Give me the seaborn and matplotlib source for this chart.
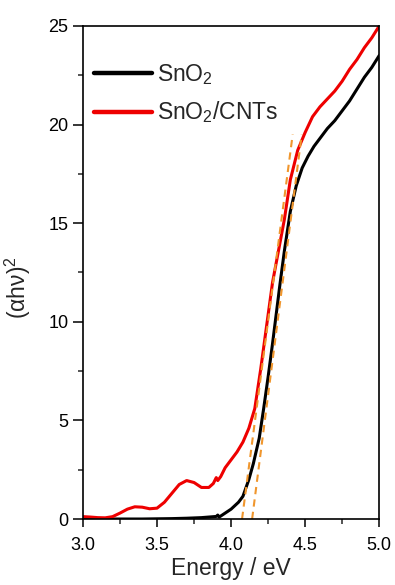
import matplotlib
matplotlib.use("Agg")
import matplotlib.pyplot as plt
import seaborn as sns
import pandas as pd
from matplotlib.ticker import MultipleLocator

# -----------------------------
# Data
# -----------------------------
energy_sno2 = [3.0, 3.2, 3.4, 3.6, 3.7, 3.8, 3.85, 3.9, 3.91, 3.92, 3.95, 4.0,
               4.05, 4.08, 4.12, 4.15, 4.19, 4.22, 4.25, 4.28, 4.3, 4.33, 4.36,
               4.4, 4.44, 4.48, 4.52, 4.56, 4.6, 4.65, 4.7, 4.75, 4.8, 4.85,
               4.9, 4.95, 5.0]
ahv_sno2 = [0.0, 0.0, 0.0, 0.02, 0.04, 0.07, 0.1, 0.13, 0.2, 0.1, 0.25, 0.5,
            0.85, 1.15, 2.0, 2.8, 4.1, 5.6, 7.2, 8.9, 10.1, 11.9, 13.6,
            15.6, 16.9, 17.8, 18.4, 18.9, 19.3, 19.8, 20.2, 20.7, 21.2, 21.8,
            22.4, 22.9, 23.5]

energy_cnt = [3.0, 3.05, 3.1, 3.15, 3.2, 3.25, 3.3, 3.35, 3.4, 3.45, 3.5, 3.55,
              3.6, 3.65, 3.7, 3.75, 3.8, 3.85, 3.88, 3.9, 3.91, 3.93, 3.96,
              4.0, 4.04, 4.08, 4.12, 4.16, 4.2, 4.24, 4.28, 4.32, 4.36, 4.4,
              4.45, 4.5, 4.55, 4.6, 4.65, 4.7, 4.75, 4.8, 4.85, 4.9, 4.95, 5.0]
ahv_cnt = [0.12, 0.1, 0.07, 0.06, 0.12, 0.3, 0.5, 0.62, 0.6, 0.52, 0.55, 0.85,
           1.3, 1.75, 1.95, 1.85, 1.6, 1.6, 1.8, 2.1, 1.95, 2.15, 2.6,
           3.0, 3.4, 3.9, 4.6, 5.6, 7.6, 9.8, 12.0, 13.6, 15.2, 17.2,
           18.7, 19.6, 20.4, 20.9, 21.3, 21.7, 22.2, 22.8, 23.3, 23.9, 24.4, 25.0]

# tangent (Tauc) lines: start and end points
tangent_cnt_x = [4.074, 4.416]
tangent_cnt_y = [0.0, 19.5]
tangent_sno2_x = [4.142, 4.477]
tangent_sno2_y = [0.0, 19.5]

df = pd.concat([
    pd.DataFrame({"E": energy_sno2, "A": ahv_sno2, "sample": "SnO$_2$"}),
    pd.DataFrame({"E": energy_cnt, "A": ahv_cnt, "sample": "SnO$_2$/CNTs"}),
])

sns.set_style("ticks")
plt.rcParams["font.family"] = ["Liberation Sans", "DejaVu Sans"]
plt.rcParams["mathtext.default"] = "regular"

fig = plt.figure(figsize=(3.95, 5.85), dpi=100)
ax = fig.add_axes([0.21, 0.1128, 0.75, 0.8428])

sns.lineplot(data=df, x="E", y="A", hue="sample",
             palette={"SnO$_2$": "black", "SnO$_2$/CNTs": "#ee0000"},
             linewidth=2.2, ax=ax, sort=False)

orange = "#f0962d"
ax.plot(tangent_cnt_x, tangent_cnt_y, color=orange, lw=1.5, ls=(0, (3.5, 2.5)))
ax.plot(tangent_sno2_x, tangent_sno2_y, color=orange, lw=1.5, ls=(0, (3.5, 2.5)))

ax.set_xlim(3.0, 5.0)
ax.set_ylim(0, 25)
ax.xaxis.set_major_locator(MultipleLocator(0.5))
ax.xaxis.set_minor_locator(MultipleLocator(0.25))
ax.yaxis.set_major_locator(MultipleLocator(5))
ax.yaxis.set_minor_locator(MultipleLocator(2.5))
ax.xaxis.set_major_formatter(plt.FormatStrFormatter("%.1f"))

ax.tick_params(which="major", direction="out", width=1.1, labelsize=13,
               colors="black")
ax.tick_params(axis="x", which="major", length=6, pad=7)
ax.tick_params(axis="y", which="major", length=7, pad=3.5)
ax.tick_params(which="minor", direction="out", length=3.5, width=1.1)
for s in ax.spines.values():
    s.set_visible(True)
    s.set_linewidth(1.2)
    s.set_color("black")

ax.set_xlabel("Energy / eV", fontsize=16.5, labelpad=2)
ax.set_ylabel("(αhν)$^2$", fontsize=16.5)
ax.yaxis.set_label_coords(-0.17, 0.47)

leg = ax.legend(loc="upper left", bbox_to_anchor=(0.0, 0.95), frameon=False,
                fontsize=16.5, handlelength=2.5, handletextpad=0.25,
                labelspacing=0.55, borderaxespad=0, borderpad=0.5)
for line in leg.get_lines():
    line.set_linewidth(3.2)

fig.savefig("out.png", dpi=100)
